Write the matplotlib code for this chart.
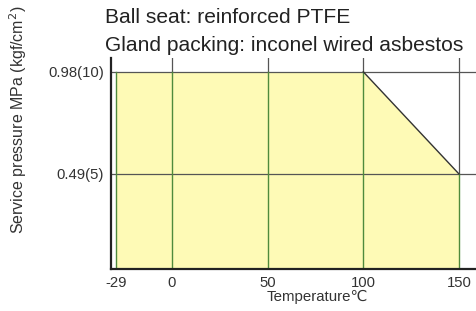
import matplotlib
matplotlib.use("Agg")
import matplotlib.pyplot as plt

plt.rcParams['font.family'] = ['Liberation Sans', 'DejaVu Sans']
plt.rcParams['axes.unicode_minus'] = False

# rating curve: service pressure vs temperature
temps = [-29, 100, 150]
press = [0.98, 0.98, 0.49]
xticks = [-29, 0, 50, 100, 150]
yticks = [0.49, 0.98]
ylabels = ["0.49(5)", "0.98(10)"]
titles = ["Ball seat: reinforced PTFE", "Gland packing: inconel wired asbestos"]

FILL = "#fefab6"
GREEN = "#4f8a3c"
GRID = "#555555"

fig = plt.figure(figsize=(4.76, 3.11), dpi=100)
ax = fig.add_axes([0.233, 0.135, 0.767, 0.679])
xmin, xmax = -31.9, 158.9
ymin, ymax = 0.034, 1.047
ax.set_xlim(xmin, xmax)
ax.set_ylim(ymin, ymax)

ax.fill_between(temps, 0, press, color=FILL, lw=0, zorder=1)

# horizontal grid
for y in yticks:
    ax.axhline(y, color=GRID, lw=0.9, zorder=2)
# vertical grid: green inside the envelope, grey above it
for x in xticks:
    top = float(press[0]) if x <= temps[1] else press[1] + (press[2] - press[1]) * (x - temps[1]) / (temps[2] - temps[1])
    ax.plot([x, x], [ymin, top], color=GREEN, lw=1.0, zorder=3)
    if x != temps[0]:
        ax.plot([x, x], [top, ymax], color=GRID, lw=0.9, zorder=2)
ax.plot(temps[1:], press[1:], color="#333333", lw=1.0, zorder=4)

for s in ["top", "right"]:
    ax.spines[s].set_visible(False)
for s in ["left", "bottom"]:
    ax.spines[s].set_linewidth(1.6)
    ax.spines[s].set_color("#222222")
    ax.spines[s].set_zorder(5)

ax.set_xticks(xticks)
ax.set_yticks(yticks)
ax.set_yticklabels(ylabels)
ax.tick_params(length=0, labelsize=10.7, labelcolor="#333333", pad=5)

fig.text(0.666, 0.045, "Temperature℃", ha="center", va="center",
         fontsize=10.8, color="#333333")
fig.text(0.038, 0.616, "Service pressure MPa (kgf/cm$^2$)", rotation=90,
         ha="center", va="center", fontsize=11.5, color="#333333")
fig.text(0.221, 0.945, titles[0], fontsize=15.1, color="#222222", va="center")
fig.text(0.221, 0.855, titles[1], fontsize=15.1, color="#222222", va="center")

fig.savefig("out.png", dpi=100)
